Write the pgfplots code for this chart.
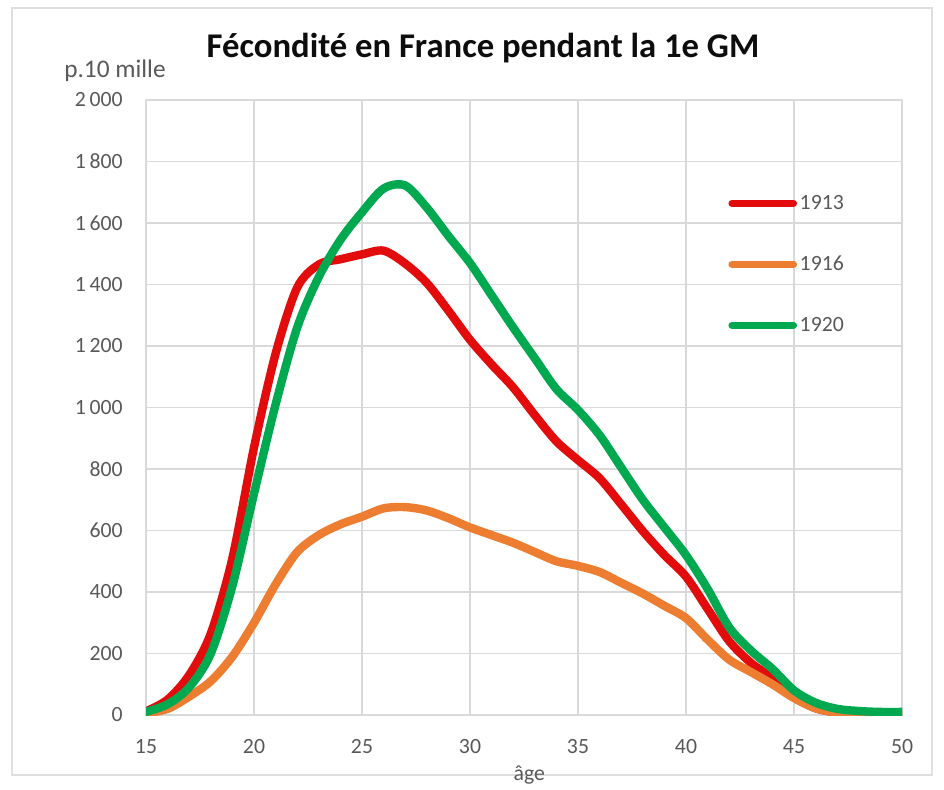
\documentclass[border=0pt]{standalone}
\usepackage{fontspec}
\setmainfont{Carlito}
\usepackage{pgfplots}
\pgfplotsset{compat=1.18}
\definecolor{cred}{RGB}{226,12,12}
\definecolor{corange}{RGB}{237,125,49}
\definecolor{cgreen}{RGB}{0,168,80}
\definecolor{cgrid}{RGB}{217,217,217}
\definecolor{ctext}{RGB}{89,89,89}
\newcommand{\pxc}[2]{({(#1)*0.75pt},{(789-(#2))*0.75pt})}
\begin{document}
\begin{tikzpicture}
\useasboundingbox (0,0) rectangle (708pt,591.75pt);
\fill[white] (0,0) rectangle (708pt,591.75pt);
\draw[gray!25, line width=1pt] \pxc{12}{8} rectangle \pxc{932}{775};
\begin{axis}[
  at={(109.5pt,55.5pt)}, anchor=south west,
  scale only axis, width=567pt, height=461.25pt,
  xmin=15, xmax=50, ymin=0, ymax=2000,
  xtick={15,20,...,50}, ytick={0,200,...,2000},
  grid=major, major grid style={cgrid, line width=1.1pt},
  axis line style={cgrid, line width=1.1pt},
  major tick length=0pt,
  tick label style={font=\fontsize{16.3}{19}\selectfont, text=ctext},
  /pgf/number format/assume math mode=true,
  /pgf/number format/1000 sep={\,},
  xticklabel style={yshift=-15pt},
  yticklabel style={xshift=-14pt},
  xlabel={âge}, xlabel style={font=\fontsize{16.3}{19}\selectfont, text=ctext, yshift=-2pt, xshift=4pt},
  legend style={at={(0.77,0.85)}, anchor=north west, draw=none, fill=none,
     font=\fontsize{16.3}{19}\selectfont, text=ctext, row sep=29.5pt, inner sep=0pt},
  legend cell align=left,
  legend image code/.code={\draw[#1, line width=5.5pt, line cap=round] (0pt,0pt) -- (46pt,0pt);},
  every axis plot/.append style={line width=6.3pt, smooth, line cap=round, line join=round},
]
\addplot[cred] coordinates {
(15,12)(16,50)(17,130)(18,265)(19,510)(20,870)(21,1175)(22,1390)(23,1465)(24,1482)(25,1498)(26,1510)
(27,1468)(28,1405)(29,1315)(30,1220)(31,1140)(32,1065)(33,975)(34,890)(35,829)(36,770)(37,685)
(38,598)(39,520)(40,450)(41,345)(42,240)(43,170)(44,120)(45,58)(46,22)(47,8)(48,4)(49,3)(50,3)};
\addlegendentry{1913}
\addplot[corange] coordinates {
(15,5)(16,20)(17,60)(18,110)(19,190)(20,300)(21,425)(22,530)(23,585)(24,620)(25,645)(26,672)
(27,676)(28,665)(29,640)(30,610)(31,585)(32,560)(33,530)(34,500)(35,485)(36,465)(37,430)
(38,395)(39,355)(40,315)(41,245)(42,180)(43,140)(44,100)(45,55)(46,22)(47,8)(48,3)(49,2)(50,2)};
\addlegendentry{1916}
\addplot[cgreen] coordinates {
(15,10)(16,35)(17,90)(18,200)(19,420)(20,720)(21,1010)(22,1260)(23,1425)(24,1545)(25,1635)(26,1712)
(27,1722)(28,1650)(29,1558)(30,1470)(31,1365)(32,1260)(33,1160)(34,1060)(35,992)(36,910)(37,805)
(38,700)(39,610)(40,520)(41,410)(42,285)(43,210)(44,150)(45,80)(46,40)(47,20)(48,13)(49,10)(50,10)};
\addlegendentry{1920}
\end{axis}
\node[font=\bfseries\fontsize{26}{30}\selectfont, text={rgb,255:red,13;green,13;blue,13}] at \pxc{483}{48} {Fécondité en France pendant la 1e GM};
\node[font=\fontsize{19}{22}\selectfont, text=ctext] at \pxc{115}{71} {p.10 mille};
\end{tikzpicture}
\end{document}
